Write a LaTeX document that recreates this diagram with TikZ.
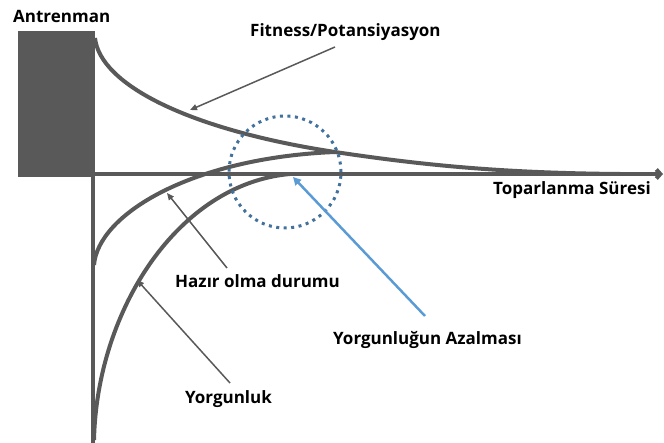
\documentclass[tikz,border=0pt]{standalone}
\usepackage{fontspec}
\setmainfont{Open Sans}
\usetikzlibrary{arrows.meta}
\definecolor{darkgray}{HTML}{595959}
\definecolor{lineblue}{HTML}{5B9BD5}
\definecolor{dotblue}{HTML}{41719C}

\begin{document}
\begin{tikzpicture}[x=1pt, y=1pt]
\tikzstyle{every node}+=[inner sep=0pt, font=\bfseries\fontsize{17}{20}\selectfont]
\tikzstyle{curve}=[darkgray, line width=4pt]
\tikzstyle{pointer}=[darkgray, line width=1.5pt, -{Triangle[length=7pt,width=6pt]}]
\useasboundingbox (0,0) rectangle (664,-443);
% training block and axes
\fill [darkgray] (18,-31) rectangle (95,-177);
\draw [darkgray, line width=4.5pt] (93,-176) -- (93,-443);
\draw [darkgray, line width=4pt, -{Straight Barb[length=4pt,width=9pt]}] (95,-174) -- (663,-174);
% fitness, readiness and fatigue
\draw [curve] (95,-38) .. controls (100,-85) and (190,-130) .. (335,-152);
\draw [curve] (335,-152) .. controls (422,-165) and (500,-173) .. (620,-174);
\draw [curve] (94,-265) .. controls (98,-215) and (190,-158) .. (335,-152);
\draw [curve] (94,-440) .. controls (97,-310) and (178,-184) .. (290,-174);
% circle round the recovery
\draw [dotblue, line width=3pt, dash pattern=on 3pt off 4.5pt] (285,-172) circle (56);
% labels
\node [anchor=base west] (antrenman) at (13,-23) {Antrenman};
\node [anchor=base west] (fitness) at (250,-37) {Fitness/Potansiyasyon};
\node [anchor=base west] (sure) at (493,-195) {Toparlanma Süresi};
\node [anchor=base west] (hazir) at (175,-288) {Hazır olma durumu};
\node [anchor=base west] (azalma) at (333,-345) {Yorgunluğun Azalması};
\node [anchor=base west] (yorgun) at (185,-403) {Yorgunluk};
% pointers
\coordinate (fitStart) at (335,-47);
\coordinate (fitTip) at (190,-110);
\coordinate (hazStart) at (227,-268);
\coordinate (hazTip) at (167,-193);
\coordinate (yorStart) at (230,-383);
\coordinate (yorTip) at (137,-280);
\coordinate (azaStart) at (425,-316);
\coordinate (azaTip) at (293,-177);
\draw [pointer] (fitStart) -- (fitTip);
\draw [pointer] (hazStart) -- (hazTip);
\draw [pointer] (yorStart) -- (yorTip);
\draw [lineblue, line width=2.5pt, -{Triangle[length=8pt,width=8pt]}] (azaStart) -- (azaTip);
\end{tikzpicture}
\end{document}
